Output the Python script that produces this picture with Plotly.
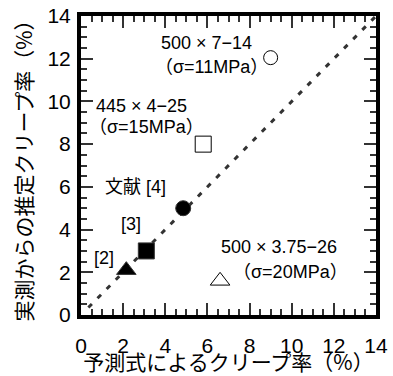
import plotly.graph_objects as go

# data
pred = [9.0, 5.8, 4.85, 3.1, 2.15, 6.6]
meas = [12.05, 8.0, 5.0, 3.0, 2.1, 1.6]
symbols = ["circle-open", "square-open", "circle", "square", "triangle-up", "triangle-up-open"]
sizes = [14, 16, 15, 16, 17, 17]
line_x = [0.35, 14]
line_y = [0.35, 14]
axis_range = [0, 14]
major_step = 2
minor_step = 0.5

TS = " × "
labels = [
    ("500" + TS + "7−14", 3.7, 12.73),
    ("（σ=11MPa）", 3.4, 11.6),
    ("445" + TS + "4−25", 0.6, 9.8),
    ("（σ=15MPa）", 0.3, 8.8),
    ("文献 [4]", 1.05, 6.0),
    ("[3]", 1.8, 4.26),
    ("[2]", 0.51, 2.67),
    ("500" + TS + "3.75−26", 6.55, 3.18),
    ("（σ=20MPa）", 7.1, 2.03),
]

FONT = "Liberation Sans, Arial, Noto Sans CJK JP"
JFONT = "Noto Sans CJK JP"
TICKCOL = "#333333"

fig = go.Figure()
fig.add_trace(go.Scatter(x=line_x, y=line_y, mode="lines",
                         line=dict(color="#333333", width=3, dash="5px,8px"),
                         showlegend=False, hoverinfo="skip"))
for xv, yv, s, sz in zip(pred, meas, symbols, sizes):
    fig.add_trace(go.Scatter(x=[xv], y=[yv], mode="markers",
                             marker=dict(symbol=s, size=sz, color="black",
                                         line=dict(color="#333333", width=1)),
                             showlegend=False))

for txt, xv, yv in labels:
    fig.add_annotation(x=xv, y=yv, text=txt, showarrow=False, xanchor="left",
                       yanchor="middle", font=dict(family=FONT, size=18, color="black"))

base = dict(range=axis_range, tickmode="linear", tick0=0, dtick=major_step,
            ticks="inside", ticklen=12, tickwidth=2, tickcolor=TICKCOL,
            showline=True, linewidth=4, linecolor="black", mirror="allticks",
            showgrid=False, zeroline=False, automargin=False,
            minor=dict(tickmode="linear", tick0=0, dtick=minor_step, ticks="inside",
                       ticklen=6, tickwidth=1.5, tickcolor=TICKCOL, showgrid=False))

fig.update_layout(
    template="none",
    xaxis=dict(**base, tickfont=dict(family=FONT, size=21, color="black"),
               ticklabelstandoff=9,
               title=dict(text="予測式によるクリープ率（%）", standoff=9,
                          font=dict(family=JFONT, size=21, color="black"))),
    yaxis=dict(**base, tickfont=dict(family=FONT, size=21, color="black"),
               ticklabelstandoff=2,
               title=dict(text="実測からの推定クリープ率（%）", standoff=10,
                          font=dict(family=JFONT, size=21, color="black"))),
)

fig.update_layout(width=393, height=376, margin=dict(l=81, r=17, t=16, b=61),
                  plot_bgcolor="white", paper_bgcolor="white")
fig.write_html("out.html", config={"displayModeBar": False},
               post_script="document.body.style.margin='0px';")
